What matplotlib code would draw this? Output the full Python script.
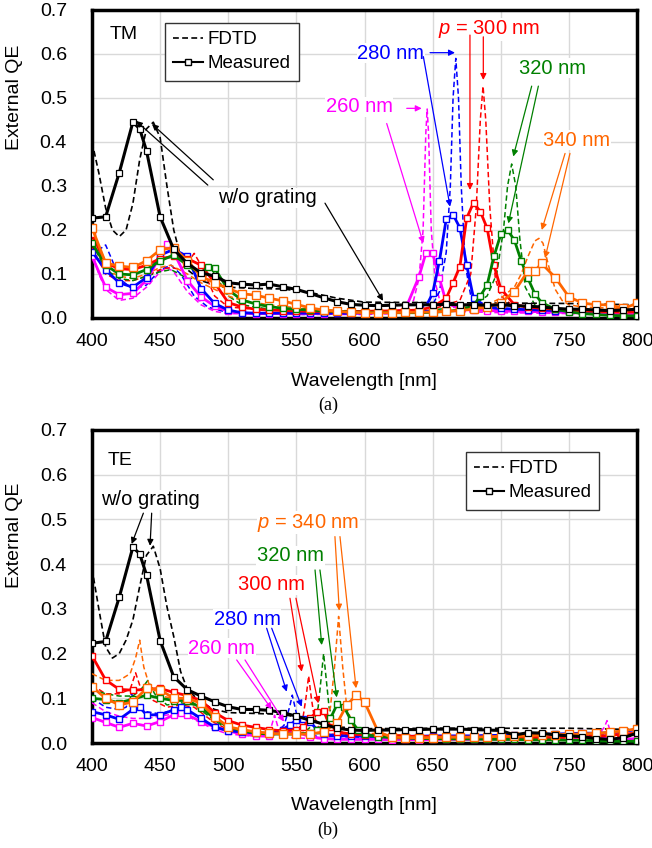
import matplotlib
matplotlib.use('Agg')
import matplotlib.pyplot as plt
from matplotlib.lines import Line2D

plt.rcParams['font.family'] = ['Liberation Sans', 'DejaVu Sans']
plt.rcParams['mathtext.fontset'] = 'custom'
plt.rcParams['mathtext.it'] = 'Liberation Sans:italic'

# ---------------- (a) TM ----------------
tm_meas_black_wl = [400, 410, 420, 430, 435, 440, 450, 460, 470, 480, 490, 500, 510, 520, 530, 540, 550, 560, 570, 580,
                    590, 600, 610, 620, 630, 640, 650, 660, 670, 680, 690, 700, 710, 720, 730, 740, 750, 760, 770, 780, 790, 800]
tm_meas_black = [0.227, 0.23, 0.33, 0.445, 0.43, 0.38, 0.23, 0.156, 0.124, 0.103, 0.095, 0.080, 0.077, 0.075, 0.077, 0.071,
                 0.065, 0.056, 0.046, 0.037, 0.031, 0.029, 0.028, 0.029, 0.030, 0.030, 0.030, 0.031, 0.030, 0.030, 0.029,
                 0.030, 0.028, 0.027, 0.025, 0.022, 0.020, 0.020, 0.018, 0.017, 0.018, 0.020]
tm_fdtd_black_wl = [400, 405, 410, 415, 420, 425, 430, 435, 440, 445, 450, 455, 460, 465, 470, 480, 490, 500, 520, 540,
                    560, 580, 600, 650, 700, 750, 800]
tm_fdtd_black = [0.40, 0.33, 0.25, 0.20, 0.185, 0.20, 0.26, 0.36, 0.43, 0.445, 0.41, 0.30, 0.20, 0.14, 0.11, 0.085, 0.075,
                 0.070, 0.067, 0.066, 0.058, 0.045, 0.036, 0.035, 0.034, 0.033, 0.030]

tm_meas_mag_wl = [400, 410, 420, 430, 440, 450, 455, 460, 470, 480, 490, 500, 510, 520, 530, 540, 550, 560, 570, 580, 590,
                  600, 610, 620, 630, 640, 645, 650, 655, 660, 670, 680, 690, 700, 710, 720, 730, 740, 750, 760, 770, 780,
                  790, 800]
tm_meas_mag = [0.14, 0.07, 0.053, 0.056, 0.086, 0.14, 0.168, 0.15, 0.085, 0.048, 0.027, 0.015, 0.011, 0.010, 0.010, 0.010,
               0.010, 0.010, 0.010, 0.011, 0.011, 0.011, 0.012, 0.012, 0.02, 0.094, 0.147, 0.147, 0.09, 0.035, 0.02, 0.018,
               0.017, 0.016, 0.015, 0.015, 0.014, 0.013, 0.013, 0.012, 0.011, 0.01, 0.009, 0.008]
tm_meas_blue_wl = [400, 410, 420, 430, 440, 450, 460, 470, 480, 490, 500, 510, 520, 530, 540, 550, 560, 570, 580, 590,
                   600, 610, 620, 630, 640, 645, 650, 655, 660, 665, 670, 675, 680, 690, 700, 710, 720, 730, 740, 750,
                   760, 770, 780, 790, 800]
tm_meas_blue = [0.151, 0.109, 0.08, 0.07, 0.092, 0.143, 0.156, 0.14, 0.067, 0.033, 0.018, 0.012, 0.011, 0.011, 0.011,
                0.011, 0.011, 0.011, 0.011, 0.011, 0.012, 0.012, 0.012, 0.013, 0.015, 0.025, 0.056, 0.13, 0.225, 0.235,
                0.205, 0.12, 0.045, 0.025, 0.022, 0.02, 0.019, 0.018, 0.017, 0.016, 0.015, 0.015, 0.014, 0.015, 0.017]
tm_meas_red_wl = [400, 410, 420, 430, 440, 450, 460, 470, 480, 490, 500, 510, 520, 530, 540, 550, 560, 570, 580, 590, 600,
                  610, 620, 630, 640, 650, 660, 665, 670, 675, 680, 685, 690, 695, 700, 710, 720, 730, 740, 750, 760, 770,
                  780, 790, 800]
tm_meas_red = [0.19, 0.125, 0.112, 0.11, 0.12, 0.135, 0.14, 0.135, 0.12, 0.08, 0.035, 0.025, 0.02, 0.018, 0.017, 0.016,
               0.015, 0.015, 0.015, 0.015, 0.015, 0.016, 0.016, 0.017, 0.018, 0.025, 0.045, 0.08, 0.117, 0.227, 0.262,
               0.242, 0.204, 0.12, 0.067, 0.03, 0.025, 0.022, 0.02, 0.018, 0.016, 0.015, 0.014, 0.013, 0.014]
tm_meas_green_wl = [400, 410, 420, 430, 440, 450, 460, 470, 480, 485, 490, 500, 510, 520, 530, 540, 550, 560, 570, 580,
                    590, 600, 610, 620, 630, 640, 650, 660, 670, 680, 685, 690, 695, 700, 705, 710, 715, 720, 725, 730,
                    740, 750, 760, 770, 780, 790, 800]
tm_meas_green = [0.17, 0.12, 0.1, 0.098, 0.11, 0.13, 0.143, 0.12, 0.1, 0.117, 0.113, 0.064, 0.041, 0.032, 0.026, 0.022,
                 0.02, 0.018, 0.016, 0.015, 0.014, 0.013, 0.013, 0.012, 0.012, 0.012, 0.013, 0.015, 0.018, 0.028, 0.05,
                 0.075, 0.14, 0.19, 0.2, 0.177, 0.13, 0.09, 0.055, 0.035, 0.02, 0.014, 0.01, 0.008, 0.006, 0.005, 0.005]
tm_meas_orange_wl = [400, 410, 420, 430, 440, 450, 460, 470, 480, 490, 500, 510, 520, 530, 540, 550, 560, 570, 580, 590,
                     600, 610, 620, 630, 640, 650, 660, 670, 680, 690, 700, 710, 720, 725, 730, 740, 750, 760, 770, 780,
                     790, 800]
tm_meas_orange = [0.205, 0.125, 0.118, 0.115, 0.13, 0.155, 0.16, 0.13, 0.095, 0.08, 0.067, 0.055, 0.052, 0.045, 0.039,
                  0.031, 0.023, 0.018, 0.015, 0.013, 0.012, 0.012, 0.012, 0.013, 0.013, 0.014, 0.015, 0.017, 0.02, 0.025,
                  0.035, 0.06, 0.107, 0.107, 0.124, 0.092, 0.048, 0.034, 0.03, 0.03, 0.022, 0.033]

tm_fdtd_mag_wl = [400, 405, 410, 420, 430, 440, 450, 455, 460, 470, 480, 490, 500, 550, 600, 620, 630, 636, 640, 643,
                  645, 646, 647, 649, 652, 656, 665, 700, 750, 800]
tm_fdtd_mag = [0.15, 0.10, 0.065, 0.04, 0.045, 0.07, 0.105, 0.115, 0.105, 0.06, 0.03, 0.015, 0.01, 0.008, 0.008, 0.01,
               0.018, 0.04, 0.09, 0.2, 0.42, 0.475, 0.42, 0.2, 0.08, 0.03, 0.015, 0.012, 0.01, 0.008]
tm_fdtd_blue_wl = [400, 405, 410, 415, 420, 430, 440, 450, 458, 465, 475, 485, 500, 550, 600, 640, 650, 655, 660, 663,
                   665, 667, 669, 671, 674, 678, 685, 700, 750, 800]
tm_fdtd_blue = [0.14, 0.155, 0.166, 0.13, 0.09, 0.065, 0.075, 0.11, 0.12, 0.1, 0.05, 0.025, 0.012, 0.008, 0.01, 0.015,
                0.03, 0.06, 0.15, 0.3, 0.5, 0.59, 0.5, 0.3, 0.12, 0.05, 0.025, 0.018, 0.013, 0.01]
tm_fdtd_red_wl = [400, 410, 420, 430, 440, 450, 458, 465, 470, 475, 480, 490, 500, 520, 550, 600, 650, 670, 678, 682,
                  685, 687, 689, 692, 696, 700, 710, 750, 800]
tm_fdtd_red = [0.16, 0.10, 0.085, 0.085, 0.095, 0.11, 0.115, 0.11, 0.125, 0.147, 0.12, 0.05, 0.025, 0.02, 0.016, 0.015,
               0.02, 0.04, 0.1, 0.25, 0.45, 0.527, 0.45, 0.25, 0.09, 0.05, 0.025, 0.015, 0.012]
tm_fdtd_green_wl = [400, 410, 420, 430, 440, 450, 458, 470, 480, 486, 492, 500, 510, 530, 560, 600, 650, 680, 690, 697,
                    702, 705, 708, 711, 714, 718, 725, 750, 800]
tm_fdtd_green = [0.17, 0.11, 0.09, 0.085, 0.095, 0.105, 0.11, 0.09, 0.09, 0.12, 0.09, 0.05, 0.03, 0.02, 0.016, 0.014,
                 0.018, 0.03, 0.05, 0.1, 0.2, 0.3, 0.35, 0.3, 0.18, 0.07, 0.03, 0.012, 0.008]
tm_fdtd_orange_wl = [400, 410, 420, 430, 440, 450, 458, 470, 480, 490, 500, 510, 530, 560, 600, 650, 680, 690, 700, 710,
                     715, 720, 725, 728, 731, 735, 740, 745, 750, 760, 800]
tm_fdtd_orange = [0.18, 0.11, 0.095, 0.09, 0.1, 0.115, 0.12, 0.1, 0.08, 0.065, 0.05, 0.04, 0.03, 0.02, 0.015, 0.015,
                  0.022, 0.03, 0.045, 0.07, 0.1, 0.14, 0.175, 0.181, 0.17, 0.12, 0.065, 0.04, 0.03, 0.025, 0.02]

# ---------------- (b) TE ----------------
te_meas_black_wl = tm_meas_black_wl
te_meas_black = [0.223, 0.227, 0.326, 0.438, 0.423, 0.376, 0.229, 0.148, 0.119, 0.105, 0.092, 0.081, 0.075, 0.075,
                 0.073, 0.068, 0.06, 0.051, 0.042, 0.033, 0.029, 0.028, 0.029, 0.029, 0.03, 0.03, 0.031, 0.031, 0.031,
                 0.03, 0.029, 0.028, 0.018, 0.023, 0.022, 0.018, 0.016, 0.014, 0.01, 0.008, 0.012, 0.022]
te_fdtd_black_wl = tm_fdtd_black_wl
te_fdtd_black = [0.39, 0.30, 0.215, 0.19, 0.2, 0.23, 0.275, 0.35, 0.42, 0.44, 0.39, 0.305, 0.238, 0.16, 0.12, 0.09,
                 0.075, 0.068, 0.066, 0.064, 0.052, 0.036, 0.032, 0.033, 0.033, 0.033, 0.03]

te_meas_mag_wl = [400, 410, 420, 430, 440, 450, 460, 465, 470, 480, 490, 500, 510, 520, 530, 540, 550, 560, 570, 580,
                  590, 600, 610, 620, 630, 640, 650, 660, 670, 680, 690, 700, 710, 720, 730, 740, 750, 760, 770, 780,
                  790, 800]
te_meas_mag = [0.057, 0.046, 0.035, 0.044, 0.038, 0.048, 0.063, 0.066, 0.063, 0.048, 0.036, 0.027, 0.02, 0.016, 0.015,
               0.028, 0.025, 0.014, 0.01, 0.008, 0.008, 0.008, 0.008, 0.007, 0.008, 0.007, 0.008, 0.008, 0.008, 0.008,
               0.009, 0.009, 0.008, 0.009, 0.01, 0.01, 0.011, 0.012, 0.012, 0.01, 0.008, 0.01]
te_meas_blue_wl = [400, 410, 420, 430, 435, 440, 450, 460, 465, 470, 480, 490, 500, 510, 520, 530, 540, 545, 550, 555,
                   560, 565, 570, 580, 590, 600, 610, 620, 630, 640, 650, 660, 670, 680, 690, 700, 710, 720, 730, 740,
                   750, 760, 770, 780, 790, 800]
te_meas_blue = [0.07, 0.063, 0.053, 0.075, 0.08, 0.063, 0.063, 0.074, 0.08, 0.074, 0.055, 0.036, 0.027, 0.025, 0.022,
                0.022, 0.03, 0.04, 0.051, 0.053, 0.048, 0.03, 0.02, 0.016, 0.016, 0.015, 0.015, 0.015, 0.015, 0.015,
                0.016, 0.016, 0.016, 0.016, 0.017, 0.017, 0.018, 0.019, 0.02, 0.02, 0.021, 0.022, 0.022, 0.023, 0.026, 0.03]
te_meas_red_wl = [400, 410, 420, 430, 440, 450, 460, 470, 480, 490, 500, 510, 520, 530, 540, 550, 555, 560, 565, 570,
                  575, 580, 590, 600, 610, 620, 630, 640, 650, 660, 670, 680, 690, 700, 710, 720, 730, 740, 750, 760,
                  770, 780, 790, 800]
te_meas_red = [0.195, 0.141, 0.12, 0.118, 0.12, 0.122, 0.113, 0.106, 0.095, 0.068, 0.05, 0.04, 0.035, 0.03, 0.027, 0.03,
               0.035, 0.055, 0.07, 0.072, 0.035, 0.025, 0.02, 0.018, 0.017, 0.016, 0.015, 0.015, 0.014, 0.014, 0.013,
               0.013, 0.013, 0.012, 0.012, 0.012, 0.012, 0.012, 0.013, 0.014, 0.015, 0.017, 0.02, 0.022]
te_meas_green_wl = [400, 410, 420, 430, 440, 450, 460, 470, 480, 490, 500, 510, 520, 530, 540, 550, 560, 565, 570, 575,
                    580, 585, 590, 595, 600, 610, 620, 630, 640, 650, 660, 670, 680, 690, 700, 710, 720, 730, 740, 750,
                    760, 770, 780, 790, 800]
te_meas_green = [0.1, 0.097, 0.09, 0.098, 0.107, 0.1, 0.095, 0.095, 0.079, 0.055, 0.035, 0.028, 0.022, 0.02, 0.02, 0.02,
                 0.022, 0.028, 0.04, 0.055, 0.087, 0.081, 0.051, 0.03, 0.02, 0.014, 0.012, 0.011, 0.01, 0.01, 0.009,
                 0.009, 0.009, 0.008, 0.008, 0.008, 0.007, 0.007, 0.007, 0.006, 0.006, 0.005, 0.004, 0.004, 0.004]
te_meas_orange_wl = [400, 410, 420, 430, 440, 450, 460, 470, 480, 490, 500, 510, 520, 530, 540, 550, 560, 570, 580, 587,
                     594, 600, 610, 620, 630, 640, 650, 660, 670, 680, 690, 700, 710, 720, 730, 740, 750, 760, 770, 780,
                     790, 800]
te_meas_orange = [0.126, 0.1, 0.085, 0.092, 0.122, 0.119, 0.1, 0.1, 0.089, 0.059, 0.036, 0.03, 0.025, 0.022, 0.02, 0.02,
                  0.02, 0.025, 0.045, 0.085, 0.107, 0.092, 0.025, 0.013, 0.012, 0.012, 0.012, 0.013, 0.013, 0.013,
                  0.014, 0.015, 0.015, 0.016, 0.018, 0.018, 0.02, 0.02, 0.022, 0.024, 0.027, 0.032]

te_fdtd_mag_wl = [400, 410, 420, 430, 440, 450, 460, 470, 480, 490, 500, 520, 528, 531, 534, 537, 540, 545, 560, 600,
                  650, 700, 750, 772, 776, 778, 780, 784, 790, 800]
te_fdtd_mag = [0.09, 0.07, 0.06, 0.055, 0.055, 0.06, 0.065, 0.06, 0.045, 0.03, 0.02, 0.015, 0.018, 0.03, 0.062, 0.03,
               0.016, 0.012, 0.01, 0.01, 0.012, 0.014, 0.016, 0.02, 0.035, 0.05, 0.03, 0.02, 0.018, 0.018]
te_fdtd_blue_wl = [400, 410, 420, 425, 429, 433, 440, 450, 460, 470, 480, 490, 500, 520, 535, 541, 545, 547, 549, 552,
                   556, 565, 600, 650, 700, 750, 800]
te_fdtd_blue = [0.1, 0.08, 0.075, 0.08, 0.11, 0.085, 0.07, 0.065, 0.075, 0.07, 0.055, 0.035, 0.025, 0.02, 0.022, 0.04,
                0.08, 0.107, 0.08, 0.04, 0.02, 0.015, 0.013, 0.013, 0.014, 0.016, 0.02]
te_fdtd_red_wl = [400, 410, 420, 428, 432, 436, 445, 455, 465, 475, 490, 500, 520, 540, 550, 555, 557, 559, 561, 563,
                  567, 575, 600, 650, 700, 750, 800]
te_fdtd_red = [0.13, 0.11, 0.11, 0.12, 0.157, 0.12, 0.095, 0.08, 0.085, 0.08, 0.045, 0.03, 0.02, 0.02, 0.03, 0.06, 0.1,
               0.15, 0.1, 0.06, 0.03, 0.02, 0.015, 0.012, 0.012, 0.013, 0.015]
te_fdtd_green_wl = [400, 410, 420, 430, 436, 441, 446, 455, 465, 475, 490, 500, 530, 555, 562, 566, 568, 570, 572, 574,
                    578, 585, 600, 650, 700, 750, 800]
te_fdtd_green = [0.12, 0.11, 0.105, 0.105, 0.12, 0.14, 0.11, 0.085, 0.09, 0.085, 0.05, 0.03, 0.02, 0.022, 0.04, 0.08,
                 0.14, 0.2, 0.14, 0.08, 0.04, 0.02, 0.012, 0.01, 0.008, 0.007, 0.006]
te_fdtd_orange_wl = [400, 410, 420, 428, 432, 435, 438, 442, 450, 460, 470, 480, 490, 500, 520, 540, 560, 570, 575, 578,
                     581, 584, 587, 592, 600, 650, 700, 750, 800]
te_fdtd_orange = [0.155, 0.14, 0.14, 0.155, 0.19, 0.23, 0.17, 0.13, 0.105, 0.1, 0.095, 0.08, 0.055, 0.035, 0.022, 0.02,
                  0.025, 0.04, 0.08, 0.17, 0.283, 0.17, 0.08, 0.035, 0.022, 0.015, 0.015, 0.017, 0.02]

MAG, BLUE, RED, GREEN, ORANGE = '#FF00FF', '#0000FF', '#FF0000', '#008000', '#FF6600'
DASH = (0, (3.5, 2))

fig = plt.figure(figsize=(6.52, 8.48), dpi=100)
ax1 = fig.add_axes([92 / 652, 1 - 318 / 848, 545 / 652, 308 / 848])
ax2 = fig.add_axes([92 / 652, 1 - 743 / 848, 545 / 652, 313 / 848])


def draw_panel(ax, fdtd, meas, fdtd_black, meas_black):
    for wl, v, c in fdtd:
        ax.plot(wl, v, color=c, ls=DASH, lw=1.1, zorder=3)
    ax.plot(fdtd_black[0], fdtd_black[1], color='k', ls=DASH, lw=1.2, zorder=3)
    for wl, v, c, ms in meas:
        ax.plot(wl, v, color=c, lw=2.0, marker='s', ms=ms, mfc='white', mec=c, mew=1.0, zorder=4)
    ax.plot(meas_black[0], meas_black[1], color='k', lw=2.2, marker='s', ms=4.5, mfc='white', mec='k', mew=0.9,
            zorder=5)
    ax.set_xlim(400, 800)
    ax.set_ylim(0, 0.7)
    ax.set_xticks(range(400, 801, 50))
    ax.set_yticks([i / 10 for i in range(8)])
    ax.set_yticklabels(['%.1f' % (i / 10) for i in range(8)])
    ax.tick_params(length=0, labelsize=14)
    ax.tick_params(axis='x', pad=11)
    ax.tick_params(axis='y', pad=18)
    ax.grid(True, color='#d9d9d9', lw=1.0)
    ax.set_axisbelow(True)
    for s in ax.spines.values():
        s.set_linewidth(2.5)


def label(ax, x, y, s, c):
    ax.text(x, y, s, color=c, fontsize=14.5, ha='center', va='center', zorder=8,
            bbox=dict(fc='white', ec='none', pad=0.5))


def arrow(ax, x0, y0, x1, y1, c):
    ax.annotate('', xy=(x1, y1), xytext=(x0, y0), zorder=9,
                arrowprops=dict(arrowstyle='-|>', color=c, lw=0.9, shrinkA=0, shrinkB=0, mutation_scale=9))


draw_panel(ax1,
           [(tm_fdtd_mag_wl, tm_fdtd_mag, MAG), (tm_fdtd_blue_wl, tm_fdtd_blue, BLUE),
            (tm_fdtd_red_wl, tm_fdtd_red, RED), (tm_fdtd_green_wl, tm_fdtd_green, GREEN),
            (tm_fdtd_orange_wl, tm_fdtd_orange, ORANGE)],
           [(tm_meas_mag_wl, tm_meas_mag, MAG, 5), (tm_meas_blue_wl, tm_meas_blue, BLUE, 5),
            (tm_meas_red_wl, tm_meas_red, RED, 5), (tm_meas_green_wl, tm_meas_green, GREEN, 5),
            (tm_meas_orange_wl, tm_meas_orange, ORANGE, 6)],
           (tm_fdtd_black_wl, tm_fdtd_black), (tm_meas_black_wl, tm_meas_black))

draw_panel(ax2,
           [(te_fdtd_mag_wl, te_fdtd_mag, MAG), (te_fdtd_blue_wl, te_fdtd_blue, BLUE),
            (te_fdtd_red_wl, te_fdtd_red, RED), (te_fdtd_green_wl, te_fdtd_green, GREEN),
            (te_fdtd_orange_wl, te_fdtd_orange, ORANGE)],
           [(te_meas_mag_wl, te_meas_mag, MAG, 5), (te_meas_blue_wl, te_meas_blue, BLUE, 5),
            (te_meas_red_wl, te_meas_red, RED, 5), (te_meas_green_wl, te_meas_green, GREEN, 5),
            (te_meas_orange_wl, te_meas_orange, ORANGE, 6)],
           (te_fdtd_black_wl, te_fdtd_black), (te_meas_black_wl, te_meas_black))

# legends
handles = [Line2D([], [], color='k', ls=DASH, lw=1.2),
           Line2D([], [], color='k', lw=1.5, marker='s', ms=4, mfc='white', mec='k')]
for ax, anchor in ((ax1, (0.134, 0.958)), (ax2, (0.686, 0.93))):
    leg = ax.legend(handles, ['FDTD', 'Measured'], loc='upper left', bbox_to_anchor=anchor, borderaxespad=0,
                    fontsize=13.5, frameon=True, fancybox=False, framealpha=1, edgecolor='#333333',
                    handlelength=1.6, handletextpad=0.2, borderpad=0.45, labelspacing=0.35)
    leg.get_frame().set_linewidth(1.0)
    leg.set_zorder(10)

ax1.text(0.033, 0.919, 'TM', transform=ax1.transAxes, fontsize=14, va='center', ha='left')
ax2.text(0.029, 0.904, 'TE', transform=ax2.transAxes, fontsize=14, va='center', ha='left')

# annotations (a)
label(ax1, 529, 0.273, 'w/o grating', 'k')
arrow(ax1, 485, 0.302, 432.3, 0.448, 'k')
arrow(ax1, 489, 0.314, 444, 0.441, 'k')
arrow(ax1, 571, 0.261, 613.6, 0.039, 'k')
label(ax1, 596, 0.48, '260 nm', MAG)
arrow(ax1, 631, 0.4765, 642, 0.4765, MAG)
arrow(ax1, 616.3, 0.442, 643.2, 0.17, MAG)
label(ax1, 619.4, 0.602, '280 nm', BLUE)
arrow(ax1, 648.1, 0.603, 666.4, 0.603, BLUE)
arrow(ax1, 643.2, 0.594, 662.8, 0.253, BLUE)
label(ax1, 691.4, 0.656, r'$p$ = 300 nm', RED)
arrow(ax1, 677.4, 0.643, 677.4, 0.291, RED)
arrow(ax1, 687.2, 0.639, 687.2, 0.541, RED)
label(ax1, 738, 0.5675, '320 nm', GREEN)
arrow(ax1, 722.7, 0.527, 709.2, 0.367, GREEN)
arrow(ax1, 727.6, 0.527, 705.6, 0.215, GREEN)
label(ax1, 756, 0.4045, '340 nm', ORANGE)
arrow(ax1, 747.2, 0.374, 730.1, 0.2, ORANGE)
arrow(ax1, 750.8, 0.374, 732.5, 0.136, ORANGE)

# annotations (b)
label(ax2, 443.2, 0.5436, 'w/o grating', 'k')
arrow(ax2, 437.7, 0.514, 429.1, 0.445, 'k')
arrow(ax2, 443.8, 0.514, 442.6, 0.441, 'k')
label(ax2, 558.8, 0.4928, r'$p$ = 340 nm', ORANGE)
arrow(ax2, 578.3, 0.4616, 581.5, 0.296, ORANGE)
arrow(ax2, 582.0, 0.4616, 593.8, 0.1224, ORANGE)
label(ax2, 545.7, 0.4183, '320 nm', GREEN)
arrow(ax2, 563.7, 0.387, 568.6, 0.219, GREEN)
arrow(ax2, 567.3, 0.387, 579.6, 0.102, GREEN)
label(ax2, 531.9, 0.3535, '300 nm', RED)
arrow(ax2, 545.3, 0.3237, 553.9, 0.1595, RED)
arrow(ax2, 549.7, 0.3237, 566.1, 0.0888, RED)
label(ax2, 513.8, 0.2767, '280 nm', BLUE)
arrow(ax2, 528.2, 0.2566, 542.9, 0.1148, BLUE)
arrow(ax2, 531.9, 0.2566, 553.9, 0.0812, BLUE)
label(ax2, 495.4, 0.2119, '260 nm', MAG)
arrow(ax2, 506.2, 0.1857, 531.9, 0.0754, MAG)
arrow(ax2, 512.3, 0.1857, 540.9, 0.0477, MAG)

# axis titles and captions
for yc, yx, ycap, cap in ((97, 381, 405, '(a)'), (535, 806, 830, '(b)')):
    fig.text(15 / 652, 1 - yc / 848, 'External QE', rotation=90, ha='center', va='center', fontsize=14)
    fig.text(364 / 652, 1 - yx / 848, 'Wavelength [nm]', ha='center', va='center', fontsize=14)
    fig.text(328 / 652, 1 - ycap / 848, cap, ha='center', va='center', fontsize=13, family='Liberation Serif')

fig.savefig('out.png', dpi=100)
